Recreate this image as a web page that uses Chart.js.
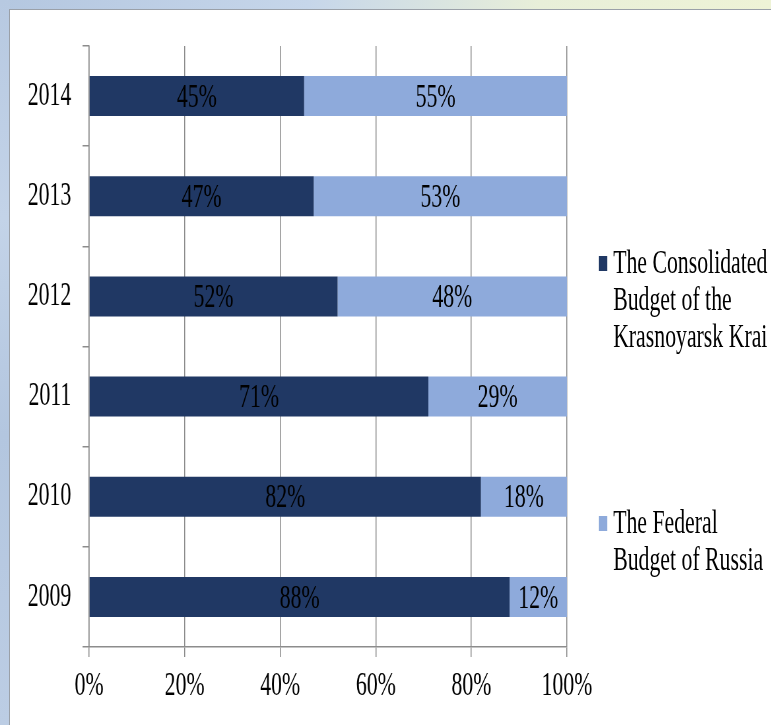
<!DOCTYPE html>
<html>
<head>
<meta charset="utf-8">
<script src="https://cdn.jsdelivr.net/npm/chart.js@4"></script>
<style>
  html, body { margin: 0; padding: 0; }
  body {
    width: 771px; height: 725px; overflow: hidden; position: relative;
    background: linear-gradient(90deg, #b4c7e0 0%, #c6d6ea 40%, #e8efd9 70%, #eef3d6 100%);
  }
  #side {
    position: absolute; left: 0; top: 0; width: 10px; height: 725px;
    background: linear-gradient(180deg, #b7c9e1 0%, #c3d3e8 30%, #b3c6df 60%, #bccde4 100%);
  }
  #panel {
    position: absolute; left: 9px; top: 9px; right: 0; bottom: 0;
    background: #fff; border-left: 1px solid #9aa0a8; border-top: 1px solid #9aa0a8;
  }
  #stage {
    position: absolute; left: 0; top: 0; width: 1168px; height: 725px;
    transform: scaleX(0.66); transform-origin: 0 0;
  }
  #chart { position: absolute; left: 0; top: 0; }
  .leg { position: absolute; font-family: "Liberation Serif", "Times New Roman", serif;
         font-size: 33px; line-height: 37px; color: #000; white-space: nowrap; }
  .mark { position: absolute; width: 13px; height: 15px; }
</style>
</head>
<body>
<div id="side"></div>
<div id="panel"></div>
<div id="stage">
  <canvas id="chart" width="909" height="725"></canvas>
  <div class="mark" style="left:907px; top:256px; background:#203864;"></div>
  <div class="leg" style="left:929px; top:244px;">The Consolidated<br>Budget of the<br>Krasnoyarsk Krai</div>
  <div class="mark" style="left:907px; top:516px; background:#8eaadb;"></div>
  <div class="leg" style="left:929px; top:504px;">The Federal<br>Budget of Russia</div>
</div>
<script>
const years = ["2009", "2010", "2011", "2012", "2013", "2014"];
const consolidated = [88, 82, 71, 52, 47, 45];
const federal = [12, 18, 29, 48, 53, 55];
const seriesNames = ["The Consolidated Budget of the Krasnoyarsk Krai", "The Federal Budget of Russia"];
const xTicks = [0, 20, 40, 60, 80, 100];

const serif = '"Liberation Serif", "Times New Roman", serif';

// percent text in the middle of each segment
const barLabels = {
    id: "barLabels",
    afterDatasetsDraw(chart) {
        const ctx = chart.ctx;
        ctx.save();
        ctx.font = "33px " + serif;
        ctx.fillStyle = "#000";
        ctx.textAlign = "center";
        ctx.textBaseline = "middle";
        chart.data.datasets.forEach((ds, i) => {
            chart.getDatasetMeta(i).data.forEach((bar, j) => {
                ctx.fillText(ds.data[j] + "%", (bar.x + bar.base) / 2, bar.y + 2);
            });
        });
        ctx.restore();
    }
};

new Chart(document.getElementById("chart"), {
    type: "bar",
    data: {
        labels: years,
        datasets: [{
            label: seriesNames[0],
            data: consolidated,
            backgroundColor: "#203864",
            barPercentage: 0.4,
            categoryPercentage: 1
        }, {
            label: seriesNames[1],
            data: federal,
            backgroundColor: "#8eaadb",
            barPercentage: 0.4,
            categoryPercentage: 1
        }]
    },
    options: {
        indexAxis: "y",
        responsive: false,
        animation: false,
        devicePixelRatio: 1,
        layout: { padding: { top: 46, right: 50, left: 0, bottom: 0 } },
        plugins: {
            legend: { display: false },
            tooltip: { enabled: false }
        },
        scales: {
            x: {
                stacked: true,
                min: 0,
                max: 100,
                afterBuildTicks: s => { s.ticks = xTicks.map(v => ({ value: v })); },
                ticks: {
                    callback: v => v + "%",
                    color: "#000",
                    font: { family: serif, size: 33 },
                    padding: 10,
                    maxRotation: 0
                },
                grid: { color: "#8c8c8c", lineWidth: 1.5, tickLength: 10 },
                border: { color: "#8c8c8c", width: 1.5 },
                afterFit: s => { s.height = 78; }
            },
            y: {
                stacked: true,
                reverse: true,
                ticks: {
                    color: "#000",
                    font: { family: serif, size: 33 },
                    padding: 17
                },
                grid: { drawOnChartArea: false, color: "#8c8c8c", lineWidth: 1.5, tickLength: 10, offset: true },
                border: { color: "#8c8c8c", width: 1.5 },
                afterFit: s => { s.width = 135; }
            }
        }
    },
    plugins: [barLabels]
});
</script>
</body>
</html>
